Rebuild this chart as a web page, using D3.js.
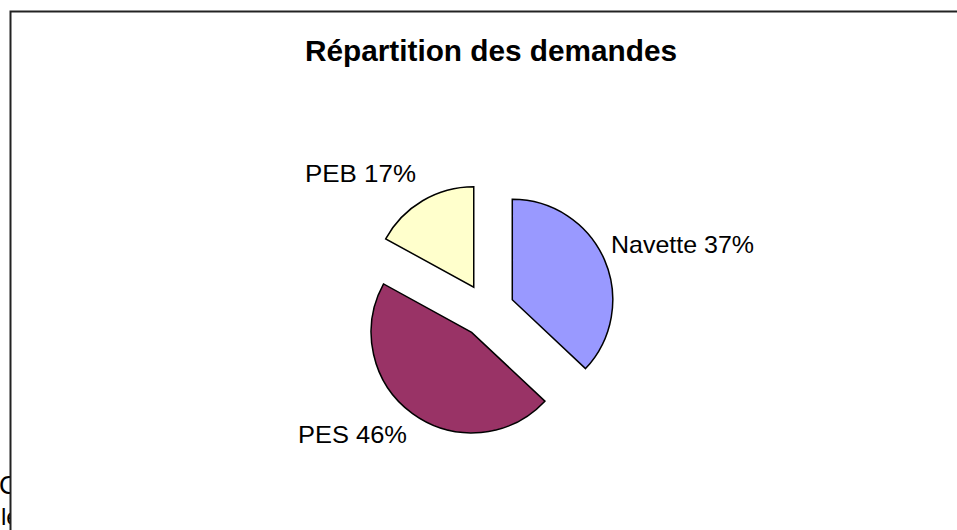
<!DOCTYPE html>
<html>
<head>
<meta charset="utf-8">
<script src="https://cdn.jsdelivr.net/npm/d3@7"></script>
<style>
  body { margin: 0; background: #fff; }
  svg { display: block; font-family: Arial, "Liberation Sans", sans-serif; }
</style>
</head>
<body>
<svg id="mySvg" width="957" height="530"></svg>
<script>
var svg = d3.select("#mySvg");

// data
const categories = ["Navette", "PES", "PEB"];
const values = [37, 46, 17];
const colors = ["#9999FF", "#993366", "#FFFFCC"];

const cx = 487.5;
const cy = 310.5;
const radius = 100.5;
const explode = 27;

// stray page text peeking out on the left
svg.append("text").attr("x", -1).attr("y", 494).attr("font-size", 26).text("Ce");
svg.append("text").attr("x", 1).attr("y", 525).attr("font-size", 24).text("le");

// chart frame (bottom and right edges run off the page)
svg.append("rect")
    .attr("x", 10.5).attr("y", 11.5)
    .attr("width", 1000).attr("height", 600)
    .attr("fill", "#fff")
    .attr("stroke", "#222")
    .attr("stroke-width", 2);

svg.append("text")
    .attr("x", 305).attr("y", 61)
    .attr("font-size", 29).attr("font-weight", "bold")
    .attr("textLength", 372).attr("lengthAdjust", "spacingAndGlyphs")
    .text("Répartition des demandes");

const pie = d3.pie().sort(null).startAngle(0).endAngle(2 * Math.PI);
const arcs = pie(values);
const arc = d3.arc().innerRadius(0).outerRadius(radius);

const g = svg.append("g").attr("transform", `translate(${cx},${cy})`);

g.selectAll("path")
    .data(arcs)
    .join("path")
    .attr("transform", function (d) {
        const mid = (d.startAngle + d.endAngle) / 2;
        return `translate(${explode * Math.sin(mid)},${-explode * Math.cos(mid)})`;
    })
    .attr("d", arc)
    .attr("fill", (d, i) => colors[i])
    .attr("stroke", "#000")
    .attr("stroke-width", 1.5)
    .attr("stroke-linejoin", "miter");

// label positions
const labelPos = [
    { x: 611, y: 253, w: 143 },
    { x: 298, y: 443, w: 109 },
    { x: 305, y: 182, w: 111 }
];

svg.selectAll("text.lbl")
    .data(arcs)
    .join("text")
    .attr("class", "lbl")
    .attr("x", (d, i) => labelPos[i].x)
    .attr("y", (d, i) => labelPos[i].y)
    .attr("font-size", 24)
    .attr("textLength", (d, i) => labelPos[i].w)
    .attr("lengthAdjust", "spacingAndGlyphs")
    .text((d, i) => categories[i] + " " + values[i] + "%");
</script>
</body>
</html>
